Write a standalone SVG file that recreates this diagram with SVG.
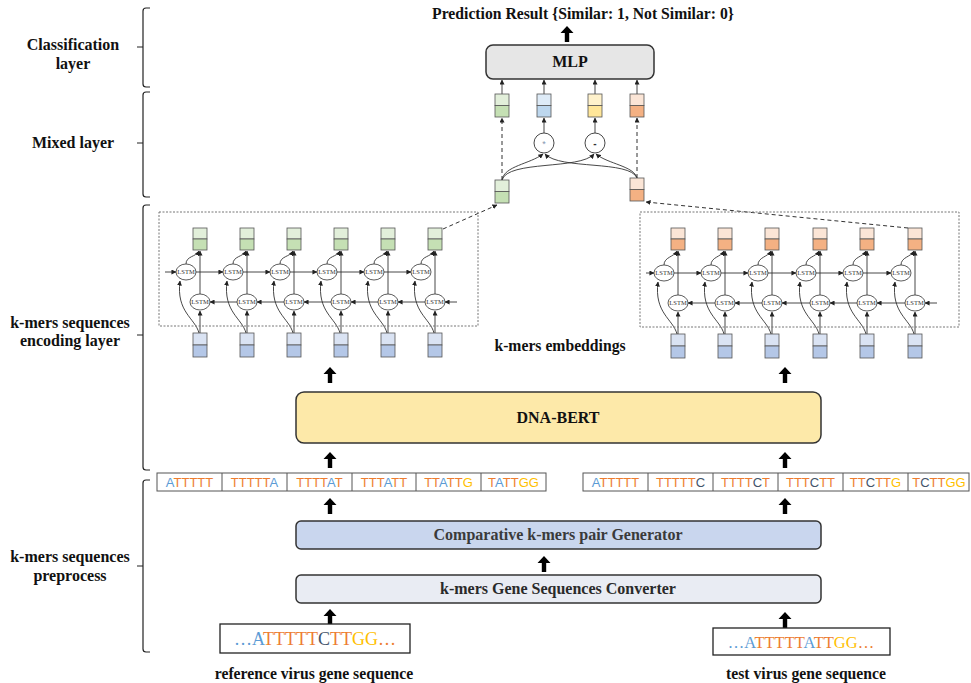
<svg xmlns="http://www.w3.org/2000/svg" xmlns:xlink="http://www.w3.org/1999/xlink" width="971" height="683" viewBox="0 0 971 683">
<defs>
<style>
.lbl{font-family:"Liberation Serif",serif;font-weight:bold;font-size:16px;fill:#111;text-anchor:middle}
.ttl{font-family:"Liberation Serif",serif;font-weight:bold;font-size:15.7px;fill:#111;text-anchor:middle}
.box{stroke:#333;stroke-width:1.5}
.km{font-family:"Liberation Sans",sans-serif;font-size:13px;text-anchor:middle}
.sq{font-family:"Liberation Serif",serif;text-anchor:middle}
.a{fill:#5b9bd5}.t{fill:#ed7d31}.c{fill:#44546a}.g{fill:#ffc000}
.cell{fill:#fff;stroke:#555;stroke-width:1}
.ln{fill:none;stroke:#333;stroke-width:0.9;marker-end:url(#ah)}
.dl{fill:none;stroke:#333;stroke-width:1;stroke-dasharray:4 3;marker-end:url(#ah)}
.ls{fill:#fff;stroke:#333;stroke-width:0.8}
.lt{font-family:"Liberation Serif",serif;font-size:6.5px;fill:#333;text-anchor:middle}
.v{stroke:#555;stroke-width:0.8}
.gT{fill:#e2efda}.gB{fill:#c5e0b4}.oT{fill:#fbe5d6}.oB{fill:#f4b183}.bT{fill:#deebf7}.bB{fill:#bdd7ee}.yT{fill:#fff2cc}.yB{fill:#ffe699}.iT{fill:#dae3f3}.iB{fill:#b4c7e7}
.frame{fill:none;stroke:#777;stroke-width:1;stroke-dasharray:2 1.5}
.brk{fill:none;stroke:#222;stroke-width:1.2}
</style>
<marker id="ah" viewBox="0 0 6 6" refX="5.5" refY="3" markerWidth="5" markerHeight="5" orient="auto" markerUnits="userSpaceOnUse"><path d="M0 0L6 3L0 6z" fill="#222"/></marker>
<path id="ta" d="M-2.2 16V7H-6.5L0 0L6.5 7H2.2V16Z" fill="#000"/>
</defs>
<rect width="971" height="683" fill="#fff"/>

<!-- layer brackets and labels -->
<g id="layers">
<path class="brk" d="M150 8H146Q143 8 143 11V84Q143 87 146 87H150M137 47H143"/>
<path class="brk" d="M150 92H146Q143 92 143 95V194Q143 197 146 197H150M137 143H143"/>
<path class="brk" d="M150 205H146Q143 205 143 208V467Q143 470 146 470H150M137 335H143"/>
<path class="brk" d="M150 480H146Q143 480 143 483V649Q143 652 146 652H150M137 566H143"/>
<text class="lbl" x="73" y="50">Classification</text>
<text class="lbl" x="73" y="69">layer</text>
<text class="lbl" x="73" y="148">Mixed layer</text>
<text class="lbl" x="70" y="328">k-mers sequences</text>
<text class="lbl" x="70" y="346">encoding layer</text>
<text class="lbl" x="70" y="562">k-mers sequences</text>
<text class="lbl" x="70" y="581">preprocess</text>
</g>

<!-- connectors -->
<g id="connectors">
<use xlink:href="#ta" x="567" y="26"/>
<use xlink:href="#ta" x="330" y="367"/>
<use xlink:href="#ta" x="785" y="367"/>
<use xlink:href="#ta" x="330" y="452"/>
<use xlink:href="#ta" x="785" y="452"/>
<use xlink:href="#ta" x="330" y="498"/>
<use xlink:href="#ta" x="785" y="498"/>
<use xlink:href="#ta" x="544" y="556"/>
<use xlink:href="#ta" x="330" y="609"/>
<use xlink:href="#ta" x="785" y="612"/>
<!-- mixed layer -->
<path class="ln" d="M502 94V80"/>
<path class="ln" d="M544 94V80"/>
<path class="ln" d="M595 94V80"/>
<path class="ln" d="M637 94V80"/>
<path class="ln" d="M544 133V118"/>
<path class="ln" d="M595 133V118"/>
<path class="dl" d="M502 180V118"/>
<path class="dl" d="M637 178V118"/>
<path class="ln" d="M502 180C504 166 530 164 543 154"/>
<path class="ln" d="M502 180C508 160 580 170 594 154"/>
<path class="ln" d="M637 178C630 160 560 170 545 154"/>
<path class="ln" d="M637 178C634 166 608 164 596 154"/>
<path class="dl" d="M443 229L497 205"/>
<path class="dl" d="M908 228L646 202"/>
<!-- left BiLSTM horizontals -->
<path class="ln" d="M165 272H176"/>
<path class="ln" d="M196 272H223"/>
<path class="ln" d="M243 272H270"/>
<path class="ln" d="M290 272H317"/>
<path class="ln" d="M337 272H364"/>
<path class="ln" d="M384 272H411"/>
<path class="ln" d="M457 302H445"/>
<path class="ln" d="M425 302H398"/>
<path class="ln" d="M378 302H351"/>
<path class="ln" d="M331 302H304"/>
<path class="ln" d="M284 302H257"/>
<path class="ln" d="M237 302H210"/>
<!-- right BiLSTM horizontals -->
<path class="ln" d="M646 273H654"/>
<path class="ln" d="M674 273H701"/>
<path class="ln" d="M721 273H748"/>
<path class="ln" d="M768 273H796"/>
<path class="ln" d="M816 273H843"/>
<path class="ln" d="M863 273H891"/>
<path class="ln" d="M937 303H925"/>
<path class="ln" d="M905 303H877"/>
<path class="ln" d="M857 303H830"/>
<path class="ln" d="M810 303H782"/>
<path class="ln" d="M762 303H735"/>
<path class="ln" d="M715 303H688"/>
<!-- per-column verticals -->
<g transform="translate(200 0)"><path class="ln" d="M0 333V311"/><path class="ln" d="M0 294V251"/><path class="ln" d="M-1 333C-5 318 -24 312 -20 281"/><path class="ln" d="M-14 264C-14 256 -4 257 -1 251"/></g>
<g transform="translate(247 0)"><path class="ln" d="M0 333V311"/><path class="ln" d="M0 294V251"/><path class="ln" d="M-1 333C-5 318 -24 312 -20 281"/><path class="ln" d="M-14 264C-14 256 -4 257 -1 251"/></g>
<g transform="translate(294 0)"><path class="ln" d="M0 333V311"/><path class="ln" d="M0 294V251"/><path class="ln" d="M-1 333C-5 318 -24 312 -20 281"/><path class="ln" d="M-14 264C-14 256 -4 257 -1 251"/></g>
<g transform="translate(341 0)"><path class="ln" d="M0 333V311"/><path class="ln" d="M0 294V251"/><path class="ln" d="M-1 333C-5 318 -24 312 -20 281"/><path class="ln" d="M-14 264C-14 256 -4 257 -1 251"/></g>
<g transform="translate(388 0)"><path class="ln" d="M0 333V311"/><path class="ln" d="M0 294V251"/><path class="ln" d="M-1 333C-5 318 -24 312 -20 281"/><path class="ln" d="M-14 264C-14 256 -4 257 -1 251"/></g>
<g transform="translate(435 0)"><path class="ln" d="M0 333V311"/><path class="ln" d="M0 294V251"/><path class="ln" d="M-1 333C-5 318 -24 312 -20 281"/><path class="ln" d="M-14 264C-14 256 -4 257 -1 251"/></g>
<g transform="translate(678 1)"><path class="ln" d="M0 333V311"/><path class="ln" d="M0 294V250"/><path class="ln" d="M-1 333C-5 318 -24 312 -20 281"/><path class="ln" d="M-14 264C-14 256 -4 256 -1 250"/></g>
<g transform="translate(725 1)"><path class="ln" d="M0 333V311"/><path class="ln" d="M0 294V250"/><path class="ln" d="M-1 333C-5 318 -24 312 -20 281"/><path class="ln" d="M-14 264C-14 256 -4 256 -1 250"/></g>
<g transform="translate(772 1)"><path class="ln" d="M0 333V311"/><path class="ln" d="M0 294V250"/><path class="ln" d="M-1 333C-5 318 -24 312 -20 281"/><path class="ln" d="M-14 264C-14 256 -4 256 -1 250"/></g>
<g transform="translate(820 1)"><path class="ln" d="M0 333V311"/><path class="ln" d="M0 294V250"/><path class="ln" d="M-1 333C-5 318 -24 312 -20 281"/><path class="ln" d="M-14 264C-14 256 -4 256 -1 250"/></g>
<g transform="translate(867 1)"><path class="ln" d="M0 333V311"/><path class="ln" d="M0 294V250"/><path class="ln" d="M-1 333C-5 318 -24 312 -20 281"/><path class="ln" d="M-14 264C-14 256 -4 256 -1 250"/></g>
<g transform="translate(915 1)"><path class="ln" d="M0 333V311"/><path class="ln" d="M0 294V250"/><path class="ln" d="M-1 333C-5 318 -24 312 -20 281"/><path class="ln" d="M-14 264C-14 256 -4 256 -1 250"/></g>
</g>

<!-- title -->
<text class="ttl" x="583" y="19">Prediction Result {Similar: 1, Not Similar: 0}</text>

<g id="mlp">
<rect class="box" x="486" y="45" width="168" height="34" rx="7" fill="#e6e6e6"/>
<text class="lbl" x="570" y="67">MLP</text>
</g>

<g id="mix-vectors">
<g id="vec-u"><rect class="gT v" x="495" y="94" width="14" height="11.5"/><rect class="gB v" x="495" y="105.5" width="14" height="11.5"/></g>
<g id="vec-mul"><rect class="bT v" x="537" y="94" width="14" height="11.5"/><rect class="bB v" x="537" y="105.5" width="14" height="11.5"/></g>
<g id="vec-sub"><rect class="yT v" x="588" y="94" width="14" height="11.5"/><rect class="yB v" x="588" y="105.5" width="14" height="11.5"/></g>
<g id="vec-v"><rect class="oT v" x="630" y="94" width="14" height="11.5"/><rect class="oB v" x="630" y="105.5" width="14" height="11.5"/></g>
</g>
<g id="op-mul"><circle cx="544" cy="143" r="10" fill="#fff" stroke="#333" stroke-width="0.9"/><text x="544" y="147" font-family="Liberation Sans, sans-serif" font-size="9" fill="#8497b0" text-anchor="middle">*</text></g>
<g id="op-sub"><circle cx="595" cy="143" r="10" fill="#fff" stroke="#333" stroke-width="0.9"/><text x="595" y="147" font-family="Liberation Sans, sans-serif" font-size="10" font-weight="bold" fill="#333" text-anchor="middle">-</text></g>
<g id="emb-ref"><rect class="gT v" x="495" y="180" width="14" height="11.5"/><rect class="gB v" x="495" y="191.5" width="14" height="11.5"/></g>
<g id="emb-test"><rect class="oT v" x="630" y="178" width="14" height="11.5"/><rect class="oB v" x="630" y="189.5" width="14" height="11.5"/></g>

<!-- left BiLSTM -->
<g id="bilstm-ref">
<rect class="frame" x="159" y="212" width="319" height="114"/>
<g transform="translate(200 0)"><rect class="gT v" x="-7" y="228" width="14" height="11"/><rect class="gB v" x="-7" y="239" width="14" height="11"/><ellipse class="ls" cx="-14" cy="272" rx="10" ry="8"/><text class="lt" x="-14" y="274.3">LSTM</text><ellipse class="ls" cx="0" cy="302" rx="10" ry="8"/><text class="lt" x="0" y="304.3">LSTM</text><rect class="iT v" x="-7" y="333" width="14" height="12"/><rect class="iB v" x="-7" y="345" width="14" height="12"/></g>
<g transform="translate(247 0)"><rect class="gT v" x="-7" y="228" width="14" height="11"/><rect class="gB v" x="-7" y="239" width="14" height="11"/><ellipse class="ls" cx="-14" cy="272" rx="10" ry="8"/><text class="lt" x="-14" y="274.3">LSTM</text><ellipse class="ls" cx="0" cy="302" rx="10" ry="8"/><text class="lt" x="0" y="304.3">LSTM</text><rect class="iT v" x="-7" y="333" width="14" height="12"/><rect class="iB v" x="-7" y="345" width="14" height="12"/></g>
<g transform="translate(294 0)"><rect class="gT v" x="-7" y="228" width="14" height="11"/><rect class="gB v" x="-7" y="239" width="14" height="11"/><ellipse class="ls" cx="-14" cy="272" rx="10" ry="8"/><text class="lt" x="-14" y="274.3">LSTM</text><ellipse class="ls" cx="0" cy="302" rx="10" ry="8"/><text class="lt" x="0" y="304.3">LSTM</text><rect class="iT v" x="-7" y="333" width="14" height="12"/><rect class="iB v" x="-7" y="345" width="14" height="12"/></g>
<g transform="translate(341 0)"><rect class="gT v" x="-7" y="228" width="14" height="11"/><rect class="gB v" x="-7" y="239" width="14" height="11"/><ellipse class="ls" cx="-14" cy="272" rx="10" ry="8"/><text class="lt" x="-14" y="274.3">LSTM</text><ellipse class="ls" cx="0" cy="302" rx="10" ry="8"/><text class="lt" x="0" y="304.3">LSTM</text><rect class="iT v" x="-7" y="333" width="14" height="12"/><rect class="iB v" x="-7" y="345" width="14" height="12"/></g>
<g transform="translate(388 0)"><rect class="gT v" x="-7" y="228" width="14" height="11"/><rect class="gB v" x="-7" y="239" width="14" height="11"/><ellipse class="ls" cx="-14" cy="272" rx="10" ry="8"/><text class="lt" x="-14" y="274.3">LSTM</text><ellipse class="ls" cx="0" cy="302" rx="10" ry="8"/><text class="lt" x="0" y="304.3">LSTM</text><rect class="iT v" x="-7" y="333" width="14" height="12"/><rect class="iB v" x="-7" y="345" width="14" height="12"/></g>
<g transform="translate(435 0)"><rect class="gT v" x="-7" y="228" width="14" height="11"/><rect class="gB v" x="-7" y="239" width="14" height="11"/><ellipse class="ls" cx="-14" cy="272" rx="10" ry="8"/><text class="lt" x="-14" y="274.3">LSTM</text><ellipse class="ls" cx="0" cy="302" rx="10" ry="8"/><text class="lt" x="0" y="304.3">LSTM</text><rect class="iT v" x="-7" y="333" width="14" height="12"/><rect class="iB v" x="-7" y="345" width="14" height="12"/></g>
</g>

<!-- right BiLSTM -->
<g id="bilstm-test">
<rect class="frame" x="640" y="212" width="319" height="115"/>
<g transform="translate(678 1)"><rect class="oT v" x="-7" y="227" width="14" height="11"/><rect class="oB v" x="-7" y="238" width="14" height="11"/><ellipse class="ls" cx="-14" cy="272" rx="10" ry="8"/><text class="lt" x="-14" y="274.3">LSTM</text><ellipse class="ls" cx="0" cy="302" rx="10" ry="8"/><text class="lt" x="0" y="304.3">LSTM</text><rect class="iT v" x="-7" y="333" width="14" height="12"/><rect class="iB v" x="-7" y="345" width="14" height="12"/></g>
<g transform="translate(725 1)"><rect class="oT v" x="-7" y="227" width="14" height="11"/><rect class="oB v" x="-7" y="238" width="14" height="11"/><ellipse class="ls" cx="-14" cy="272" rx="10" ry="8"/><text class="lt" x="-14" y="274.3">LSTM</text><ellipse class="ls" cx="0" cy="302" rx="10" ry="8"/><text class="lt" x="0" y="304.3">LSTM</text><rect class="iT v" x="-7" y="333" width="14" height="12"/><rect class="iB v" x="-7" y="345" width="14" height="12"/></g>
<g transform="translate(772 1)"><rect class="oT v" x="-7" y="227" width="14" height="11"/><rect class="oB v" x="-7" y="238" width="14" height="11"/><ellipse class="ls" cx="-14" cy="272" rx="10" ry="8"/><text class="lt" x="-14" y="274.3">LSTM</text><ellipse class="ls" cx="0" cy="302" rx="10" ry="8"/><text class="lt" x="0" y="304.3">LSTM</text><rect class="iT v" x="-7" y="333" width="14" height="12"/><rect class="iB v" x="-7" y="345" width="14" height="12"/></g>
<g transform="translate(820 1)"><rect class="oT v" x="-7" y="227" width="14" height="11"/><rect class="oB v" x="-7" y="238" width="14" height="11"/><ellipse class="ls" cx="-14" cy="272" rx="10" ry="8"/><text class="lt" x="-14" y="274.3">LSTM</text><ellipse class="ls" cx="0" cy="302" rx="10" ry="8"/><text class="lt" x="0" y="304.3">LSTM</text><rect class="iT v" x="-7" y="333" width="14" height="12"/><rect class="iB v" x="-7" y="345" width="14" height="12"/></g>
<g transform="translate(867 1)"><rect class="oT v" x="-7" y="227" width="14" height="11"/><rect class="oB v" x="-7" y="238" width="14" height="11"/><ellipse class="ls" cx="-14" cy="272" rx="10" ry="8"/><text class="lt" x="-14" y="274.3">LSTM</text><ellipse class="ls" cx="0" cy="302" rx="10" ry="8"/><text class="lt" x="0" y="304.3">LSTM</text><rect class="iT v" x="-7" y="333" width="14" height="12"/><rect class="iB v" x="-7" y="345" width="14" height="12"/></g>
<g transform="translate(915 1)"><rect class="oT v" x="-7" y="227" width="14" height="11"/><rect class="oB v" x="-7" y="238" width="14" height="11"/><ellipse class="ls" cx="-14" cy="272" rx="10" ry="8"/><text class="lt" x="-14" y="274.3">LSTM</text><ellipse class="ls" cx="0" cy="302" rx="10" ry="8"/><text class="lt" x="0" y="304.3">LSTM</text><rect class="iT v" x="-7" y="333" width="14" height="12"/><rect class="iB v" x="-7" y="345" width="14" height="12"/></g>
</g>

<text class="ttl" x="560" y="351">k-mers embeddings</text>

<g id="dna-bert">
<rect class="box" x="296" y="392" width="525" height="51" rx="8" fill="#fde9a9"/>
<text class="lbl" x="558" y="423">DNA-BERT</text>
</g>

<g id="kmers-ref" class="km">
<rect class="cell" x="157" y="473" width="389" height="18"/>
<path d="M222 473V491M287 473V491M352 473V491M416 473V491M481 473V491" stroke="#555" stroke-width="1"/>
<text x="189.5" y="487"><tspan class="a">A</tspan><tspan class="t">TTTTT</tspan></text>
<text x="254.5" y="487"><tspan class="t">TTTTT</tspan><tspan class="a">A</tspan></text>
<text x="319.5" y="487"><tspan class="t">TTTT</tspan><tspan class="a">A</tspan><tspan class="t">T</tspan></text>
<text x="384" y="487"><tspan class="t">TTT</tspan><tspan class="a">A</tspan><tspan class="t">TT</tspan></text>
<text x="448.5" y="487"><tspan class="t">TT</tspan><tspan class="a">A</tspan><tspan class="t">TT</tspan><tspan class="g">G</tspan></text>
<text x="513.5" y="487"><tspan class="t">T</tspan><tspan class="a">A</tspan><tspan class="t">TT</tspan><tspan class="g">GG</tspan></text>
</g>

<g id="kmers-test" class="km">
<rect class="cell" x="583" y="473" width="386" height="18"/>
<path d="M648 473V491M713 473V491M778 473V491M843 473V491M908 473V491" stroke="#555" stroke-width="1"/>
<text x="615.5" y="487"><tspan class="a">A</tspan><tspan class="t">TTTTT</tspan></text>
<text x="680.5" y="487"><tspan class="t">TTTTT</tspan><tspan class="c">C</tspan></text>
<text x="745.5" y="487"><tspan class="t">TTTT</tspan><tspan class="c">C</tspan><tspan class="t">T</tspan></text>
<text x="810.5" y="487"><tspan class="t">TTT</tspan><tspan class="c">C</tspan><tspan class="t">TT</tspan></text>
<text x="875.5" y="487"><tspan class="t">TT</tspan><tspan class="c">C</tspan><tspan class="t">TT</tspan><tspan class="g">G</tspan></text>
<text x="939" y="487"><tspan class="t">T</tspan><tspan class="c">C</tspan><tspan class="t">TT</tspan><tspan class="g">GG</tspan></text>
</g>

<g id="pair-generator">
<rect class="box" x="296" y="521" width="525" height="28" rx="5" fill="#c9d6ee"/>
<text class="lbl" x="558" y="540" style="fill:#3a3a3a">Comparative k-mers pair Generator</text>
</g>

<g id="seq-converter">
<rect class="box" x="296" y="575" width="525" height="28" rx="5" fill="#e9ecf3"/>
<text class="lbl" x="558" y="594" style="fill:#2a2a2a">k-mers Gene Sequences Converter</text>
</g>

<g id="ref-seq">
<rect x="220" y="624" width="190" height="29" fill="#fff" stroke="#222" stroke-width="1.3"/>
<text class="sq" x="315" y="645" font-size="18"><tspan class="a">…A</tspan><tspan class="t">TTTTT</tspan><tspan class="c">C</tspan><tspan class="t">TT</tspan><tspan class="g">GG</tspan><tspan class="t">…</tspan></text>
<text class="ttl" x="314" y="679">reference virus gene sequence</text>
</g>

<g id="test-seq">
<rect x="713" y="628" width="177" height="27" fill="#fff" stroke="#222" stroke-width="1.3"/>
<text class="sq" x="801" y="647.5" font-size="16.5"><tspan class="a">…A</tspan><tspan class="t">TTTTT</tspan><tspan class="a">A</tspan><tspan class="t">TT</tspan><tspan class="g">GG</tspan><tspan class="t">…</tspan></text>
<text class="ttl" x="806" y="679">test virus gene sequence</text>
</g>
</svg>
